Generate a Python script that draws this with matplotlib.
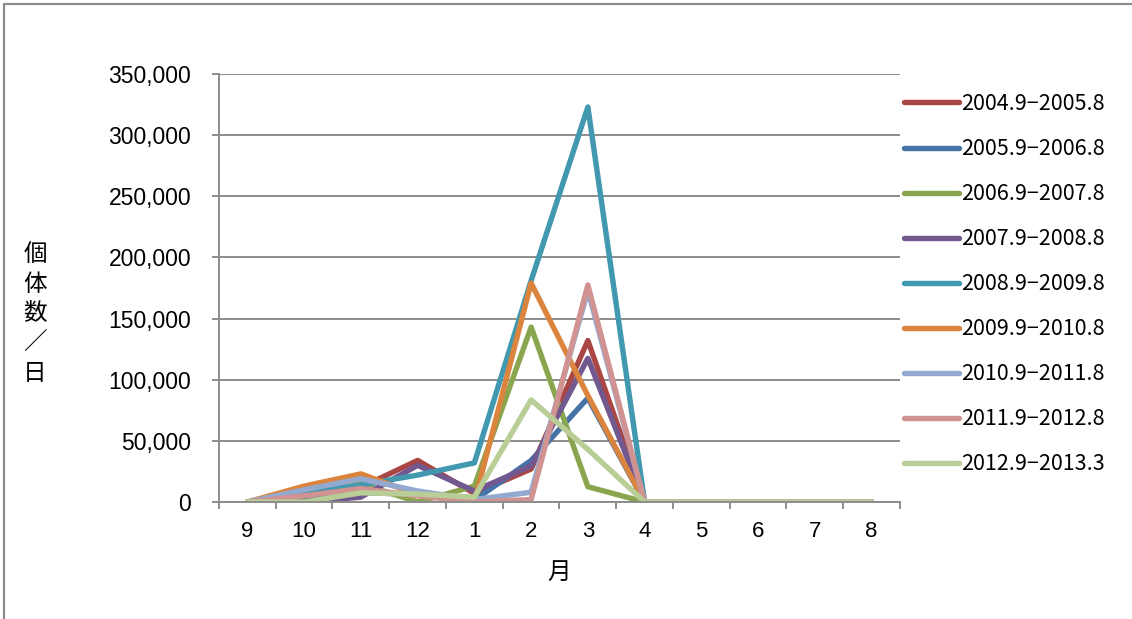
import matplotlib
matplotlib.use('Agg')
import matplotlib.pyplot as plt
import matplotlib.patches as mpatches
from matplotlib.ticker import FuncFormatter, FixedLocator

plt.rcParams['font.family'] = ['Noto Sans CJK JP', 'DejaVu Sans']

# months of the season, September through August
months = ['9', '10', '11', '12', '1', '2', '3', '4', '5', '6', '7', '8']

# counts per day for each season
s2004 = [0, 5000, 12000, 34000, 7000, 27000, 132000, 0, 0, 0, 0, 0]
s2005 = [0, 3000, 8000, 6000, 1500, 34000, 85000, 0, 0, 0, 0, 0]
s2006 = [0, 6000, 15000, 0, 13000, 143000, 12500, 0, 0, 0, 0, 0]
s2007 = [0, 0, 4000, 30000, 9000, 29500, 117500, 0, 0, 0, 0, 0]
s2008 = [0, 7000, 14000, 22000, 32000, 181000, 323000, 0, 0, 0, 0, 0]
s2009 = [0, 13000, 23000, 6000, 0, 179000, 87000, 0, 0, 0, 0, 0]
s2010 = [0, 10000, 19000, 9000, 2000, 8000, 173000, 0, 0, 0, 0, 0]
s2011 = [0, 5000, 11000, 5000, 0, 2000, 177500, 0, 0, 0, 0, 0]
s2012 = [0, 0, 7500, 6500, 4000, 83500, 43000, 0, 0, 0, 0, 0]

seasons = ['2004.9\u22122005.8', '2005.9\u22122006.8', '2006.9\u22122007.8',
           '2007.9\u22122008.8', '2008.9\u22122009.8', '2009.9\u22122010.8',
           '2010.9\u22122011.8', '2011.9\u22122012.8', '2012.9\u22122013.3']
series = [s2004, s2005, s2006, s2007, s2008, s2009, s2010, s2011, s2012]
colors = ['#AA4643', '#4572A7', '#89A54E', '#71588F', '#4198AF',
          '#DB843D', '#93A9CF', '#D19392', '#B9CD96']

W, H = 1132, 619
fig = plt.figure(figsize=(W / 100, H / 100), dpi=100)
fig.patch.set_facecolor('white')

# chart area border
fig.add_artist(mpatches.Rectangle((4 / W, -0.05), 1.2, 1 - 3.5 / H + 0.05,
                                  transform=fig.transFigure, fill=False,
                                  edgecolor='#8c8c8c', linewidth=1.6))

ax = fig.add_axes([219 / W, 1 - 502 / H, 681 / W, 428 / H])

x = list(range(len(months)))
for vals, lab, c in zip(series, seasons, colors):
    ax.plot(x, vals, color=c, linewidth=3.9, label=lab,
            solid_joinstyle='round', solid_capstyle='round')

ax.set_xlim(-0.5, len(months) - 0.5)
ax.set_ylim(0, 350000)
ax.set_yticks(range(0, 350001, 50000))
ax.yaxis.set_major_formatter(FuncFormatter(lambda v, p: f'{int(v):,}'))
ax.yaxis.grid(True, color='#8c8c8c', linewidth=1.4)
ax.set_axisbelow(True)

ax.set_xticks(x)
ax.set_xticklabels(months)
ax.xaxis.set_minor_locator(FixedLocator([i - 0.5 for i in range(len(months) + 1)]))
ax.tick_params(axis='x', which='major', length=0, pad=14)
ax.tick_params(axis='x', which='minor', length=5, width=1.4, color='#8c8c8c', direction='out')
ax.tick_params(axis='y', length=5, width=1.4, color='#8c8c8c', direction='out', pad=15)

for lbl in ax.get_xticklabels():
    lbl.set_fontfamily('Liberation Sans')
    lbl.set_fontsize(16)
for lbl in ax.get_yticklabels():
    lbl.set_fontfamily('Liberation Sans')
    lbl.set_fontsize(16.5)

for side in ['top', 'right']:
    ax.spines[side].set_visible(False)
ax.spines['left'].set_color('#8c8c8c')
ax.spines['bottom'].set_color('#8c8c8c')
ax.spines['left'].set_linewidth(1.4)
ax.spines['bottom'].set_linewidth(1.4)

ax.set_xlabel('月', fontsize=17, labelpad=13)
fig.text(35 / W, 1 - 314 / H, '\n'.join('個体数／日'), fontsize=17,
         ha='center', va='center', linespacing=1.38)

ax.legend(loc='upper left', bbox_to_anchor=(1.006, 1 - 19 / 428), frameon=False,
          fontsize=15.5, handlelength=2.55, handletextpad=0.12,
          labelspacing=1.07, borderpad=0, borderaxespad=0)

fig.savefig('out.png', dpi=100)
